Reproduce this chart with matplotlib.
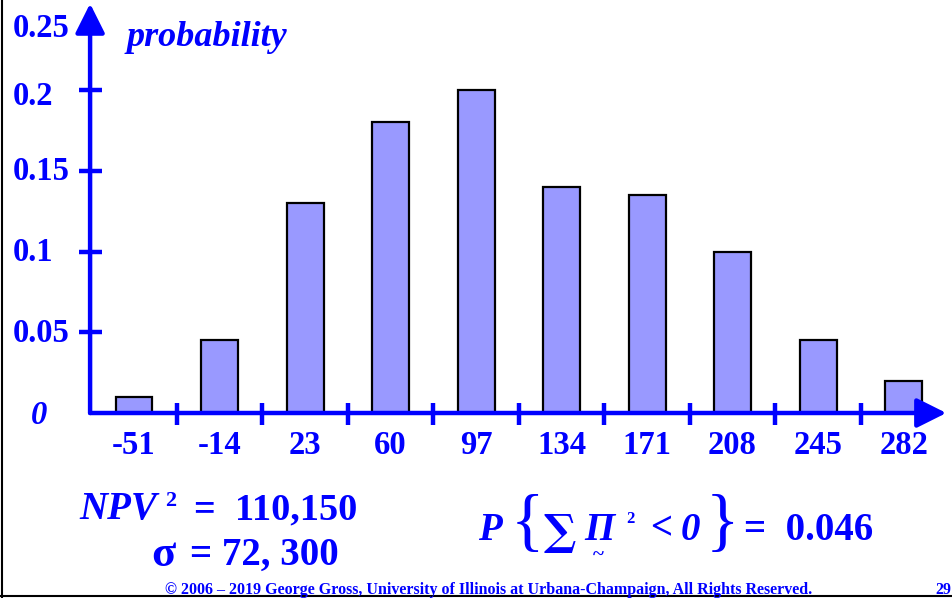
import matplotlib
matplotlib.use('Agg')
import matplotlib.pyplot as plt
import numpy as np

plt.rcParams['font.family'] = ['Liberation Serif', 'DejaVu Serif']

# profit values (x) and their probabilities
profits = [-51, -14, 23, 60, 97, 134, 171, 208, 245, 282]
probs = [0.01, 0.045, 0.13, 0.18, 0.20, 0.14, 0.135, 0.10, 0.045, 0.02]
ytick_vals = [0.05, 0.1, 0.15, 0.2]
ytick_text = ['0.05', '0.1', '0.15', '0.2']

blue = '#0000FF'

fig = plt.figure(figsize=(9.53, 5.98), dpi=100)
ax = fig.add_axes([0, 0, 1, 1])

# pixel -> data mapping: x centre -51 at px 134, 2.311 px per unit
# y: 0 at px 413, 0.05 per 80.75 px
ax.set_xlim(-51 - 134 / 2.311, -51 + (953 - 134) / 2.311)
ax.set_ylim(-(598 - 413) * 0.05 / 80.75, 413 * 0.05 / 80.75)

ax.bar(profits, probs, width=16, color='#9999FF', edgecolor='black', linewidth=1.6, zorder=2)

x0 = -70.0
xend = 300.5
ytop = 0.2535
ax.axis('off')

# axes with arrows
arr = dict(arrowstyle='-|>,head_length=1.0,head_width=0.5', lw=3.2,
           color=blue, mutation_scale=18, shrinkA=0, shrinkB=0)
ax.annotate('', xy=(x0, ytop), xytext=(x0, 0), zorder=3, arrowprops=arr)
ax.annotate('', xy=(xend, 0), xytext=(x0, 0), zorder=3, arrowprops=arr)

# tick marks crossing the axes
dy = 0.05 / 80.75
dx = 1 / 2.311
for v in ytick_vals:
    ax.plot([x0 - 11 * dx, x0 + 12 * dx], [v, v], color=blue, lw=3.2, solid_capstyle='butt', zorder=3)
mids = [(profits[i] + profits[i + 1]) / 2 for i in range(len(profits) - 1)]
for m in mids:
    ax.plot([m, m], [-12 * dy, 10 * dy], color=blue, lw=3.2, solid_capstyle='butt', zorder=3)

# tick labels
for v, t in zip(ytick_vals, ytick_text):
    off = -7 * dy if v == 0.2 else -1 * dy
    ax.text(-103.5, v + off, t, color=blue, fontsize=23.5, fontweight='bold', ha='left', va='center')
ax.text(-103.5, 0.25 - 19 * dy, '0.25', color=blue, fontsize=23.5, fontweight='bold', ha='left', va='center')
ax.text(-92, -3 * dy, '0', color=blue, fontsize=23.5, fontweight='bold', fontstyle='italic', ha='center', va='center')
for p in profits:
    ax.text(p, -33 * dy, str(p), color=blue, fontsize=23.5, fontweight='bold', ha='center', va='center')

fig.text(127 / 953, 1 - 37 / 598, 'probability', color=blue, fontsize=26, fontweight='bold',
         fontstyle='italic', ha='left', va='center')

# statistics
big = 28
fig.text(79 / 953, 1 - 510 / 598, 'NPV', color=blue, fontsize=big, fontweight='bold',
         fontstyle='italic', ha='left', va='center')
fig.text(165 / 953, 1 - 501 / 598, '2', color=blue, fontsize=16, fontweight='bold', ha='left', va='center')
fig.text(194 / 953, 1 - 510 / 598, '=  110,150', color=blue, fontsize=27.5, fontweight='bold',
         ha='left', va='center')
fig.text(151 / 953, 1 - 555 / 598, '\u03c3', color=blue, fontsize=32, fontweight='bold', ha='left', va='center')
fig.text(190 / 953, 1 - 555 / 598, '= 72, 300', color=blue, fontsize=big, fontweight='bold',
         ha='left', va='center')

# P{ sum Pi^2 < 0 } = 0.046
yc = 1 - 530 / 598
fig.text(478 / 953, yc, 'P', color=blue, fontsize=big, fontweight='bold', fontstyle='italic', ha='left', va='center')
fig.text(511 / 953, yc + 0.006, '{', color=blue, fontsize=50, ha='left', va='center')
fig.text(560 / 953, 1 - 533 / 598, '\u2211', color=blue, fontsize=31, fontweight='bold',
         family='DejaVu Serif', ha='center', va='center')
fig.text(584 / 953, yc, '\u03a0', color=blue, fontsize=big, fontweight='bold', fontstyle='italic', ha='left', va='center')
fig.text(598 / 953, 1 - 556 / 598, '~', color=blue, fontsize=15, fontweight='bold', ha='center', va='center')
fig.text(626 / 953, 1 - 519 / 598, '2', color=blue, fontsize=12, fontweight='bold', ha='left', va='center')
fig.text(650 / 953, yc, '<', color=blue, fontsize=big, fontweight='bold', ha='left', va='center')
fig.text(681 / 953, yc, '0', color=blue, fontsize=big, fontweight='bold', fontstyle='italic', ha='left', va='center')
fig.text(706 / 953, yc + 0.006, '}', color=blue, fontsize=50, ha='left', va='center')
fig.text(744 / 953, yc, '=  0.046', color=blue, fontsize=big, fontweight='bold', ha='left', va='center')

fig.text(165 / 953, 1 - 590 / 598,
         '\u00a9 2006 \u2013 2019 George Gross, University of Illinois at Urbana-Champaign, All Rights Reserved.',
         color=blue, fontsize=11.5, fontweight='bold', ha='left', va='center')
fig.text(951 / 953, 1 - 590 / 598, '29', color=blue, fontsize=11.5, fontweight='bold', ha='right', va='center')

# slide frame lines
fig.add_artist(plt.Line2D([2 / 953, 2 / 953], [0, 1], color='black', lw=1.5))
fig.add_artist(plt.Line2D([0, 1], [2 / 598, 2 / 598], color='black', lw=1.5))

fig.savefig('out.png', dpi=100)
